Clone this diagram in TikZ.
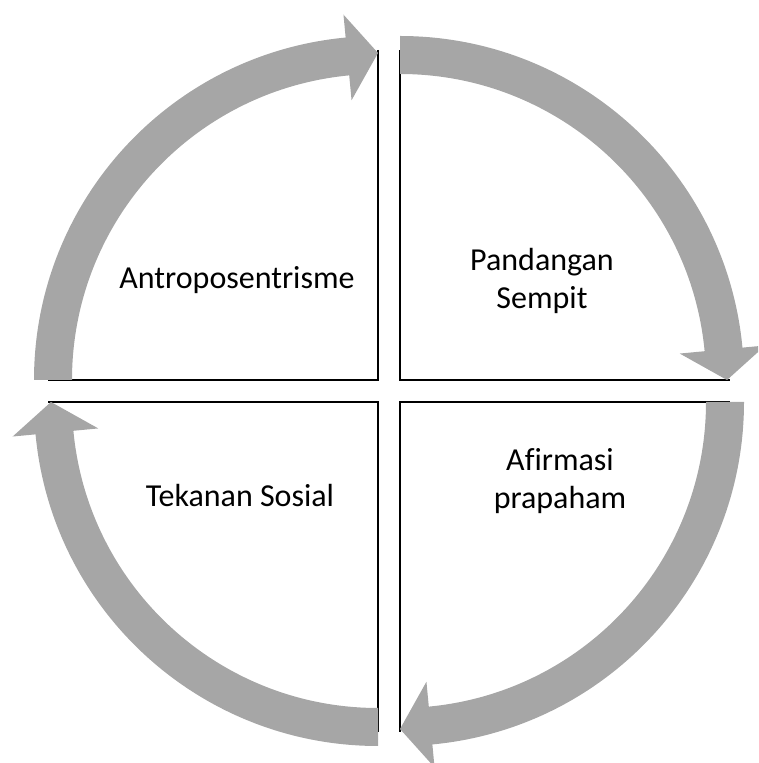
\documentclass[tikz,border=0pt]{standalone}
\usepackage{fontspec}
\setmainfont[Ligatures=NoCommon]{Carlito}
\usetikzlibrary{calc}
\definecolor{arrowgray}{RGB}{166,166,166}
\newcommand\quadarrow[4]{%
  \fill[arrowgray] ($(#1)+(#2:344pt)$) arc[start angle=#2, end angle=#3, radius=344pt]
    -- ($(#1)+(#3:367pt)$) -- ($(#1)+(#4:327pt)$) -- ($(#1)+(#3:281pt)$)
    -- ($(#1)+(#3:306pt)$) arc[start angle=#3, end angle=#2, radius=306pt] -- cycle;}
\begin{document}
\begin{tikzpicture}[x=1pt,y=1pt,
  edge/.style={draw=black, line width=2.2pt},
  lbl/.style={font=\fontsize{32}{38}\selectfont, align=center, inner sep=0pt}]
\useasboundingbox (0,0) rectangle (758,763);
\clip (0,0) rectangle (758,763);
\coordinate (cTL) at (378,383);
\coordinate (cTR) at (400,383);
\coordinate (cBR) at (400,361);
\coordinate (cBL) at (378,361);
% quadrant borders
\coordinate (tlT) at ($(cTL)+(0,330)$);
\coordinate (tlL) at ($(cTL)+(-330,0)$);
\coordinate (trT) at ($(cTR)+(0,330)$);
\coordinate (trR) at ($(cTR)+(330,0)$);
\coordinate (brB) at ($(cBR)+(0,-330)$);
\coordinate (brR) at ($(cBR)+(330,0)$);
\coordinate (blB) at ($(cBL)+(0,-330)$);
\coordinate (blL) at ($(cBL)+(-330,0)$);
\draw[edge] (tlT) -- (cTL) -- (tlL);
\draw[edge] (trT) -- (cTR) -- (trR);
\draw[edge] (brR) -- (cBR) -- (brB);
\draw[edge] (blB) -- (cBL) -- (blL);
% circular arrows
\quadarrow{cTL}{180}{95.4}{90}
\quadarrow{cTR}{90}{5.4}{0}
\quadarrow{cBR}{0}{-84.6}{-90}
\quadarrow{cBL}{270}{185.4}{180}
% labels
\node[lbl] (t1) at (237,483) {Antroposentrisme};
\node[lbl] (t2) at (542,482) {Pandangan\\Sempit};
\node[lbl] (t3) at (240,267) {Tekanan Sosial};
\node[lbl] (t4) at (560,282) {Afirmasi\\prapaham};
\end{tikzpicture}
\end{document}
